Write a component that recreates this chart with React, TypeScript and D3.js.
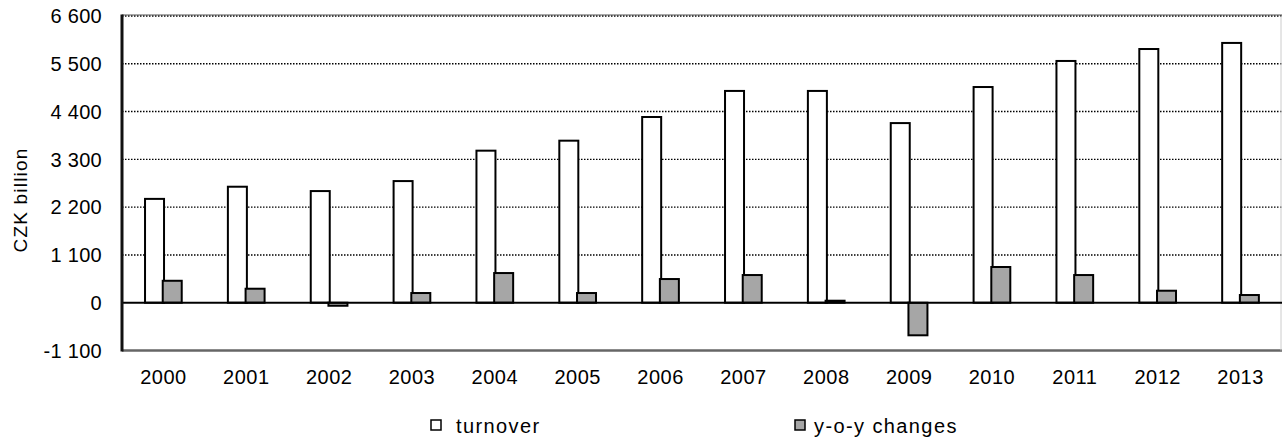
import React from "react";
import * as d3 from "d3";

// chart data
const years = ["2000", "2001", "2002", "2003", "2004", "2005", "2006", "2007", "2008", "2009", "2010", "2011", "2012", "2013"];
const turnover = [2390, 2670, 2570, 2800, 3500, 3730, 4275, 4875, 4875, 4135, 4965, 5565, 5840, 5980];
const yoyChanges = [505, 322, -70, 223, 683, 223, 545, 637, 46, -750, 822, 637, 276, 177];
const yTicks = [-1100, 0, 1100, 2200, 3300, 4400, 5500, 6600];
const seriesKeys = ["turnover", "yoy"];
const seriesLabels = ["turnover", "y-o-y changes"];

const W = 1282;
const H = 439;
const plot = { left: 122, right: 1282, top: 16, bottom: 350.5 };
const FONT = "'Liberation Sans', Arial, sans-serif";

const locale = d3.formatLocale({ decimal: ",", thousands: " ", grouping: [3], currency: ["", ""], minus: "-" });
const fmt = locale.format(",d");

export default function App() {
  const x0 = d3.scaleBand().domain(years).range([plot.left, plot.right]).padding(0);
  // two bars per year, slightly overlapping
  const x1 = d3.scaleBand().domain(seriesKeys).range([-18.4, 18.3]).paddingInner(-0.0734).paddingOuter(0);
  const y = d3.scaleLinear().domain([-1100, 6600]).range([plot.bottom, plot.top]);

  const colors = { turnover: "#ffffff", yoy: "#a6a6a6" };
  const rows = years.map((yr, i) => ({ yr, turnover: turnover[i], yoy: yoyChanges[i] }));

  return (
    <svg width={W} height={H} style={{ position: "absolute", left: 0, top: 0, background: "#fff" }}>
      {/* gridlines */}
      {yTicks.filter((t) => t > 0).map((t) => (
        <line key={t} x1={plot.left} x2={plot.right} y1={y(t)} y2={y(t)}
          stroke="#000" strokeWidth={1.4} strokeDasharray="1.5,1.5" />
      ))}
      {/* frame */}
      <line x1={plot.left} x2={plot.right} y1={plot.top - 1} y2={plot.top - 1} stroke="#555" strokeWidth={1.2} />
      <line x1={plot.left} x2={plot.right} y1={plot.bottom} y2={plot.bottom} stroke="#666" strokeWidth={2.5} />
      <line x1={plot.right - 1} x2={plot.right - 1} y1={plot.top} y2={plot.bottom} stroke="#ccc" strokeWidth={1} />

      {/* bars */}
      {rows.map((r) => (
        <g key={r.yr} transform={`translate(${x0(r.yr) + x0.bandwidth() / 2},0)`}>
          {seriesKeys.map((k) => {
            const v = r[k];
            const y0 = y(Math.max(0, v));
            const h = Math.abs(y(v) - y(0));
            return (
              <rect key={k} x={x1(k)} y={y0} width={x1.bandwidth()} height={Math.max(h, 1)}
                fill={colors[k]} stroke="#000" strokeWidth={2} />
            );
          })}
        </g>
      ))}

      {/* zero line */}
      <line x1={plot.left} x2={plot.right} y1={y(0)} y2={y(0)} stroke="#000" strokeWidth={2} />
      {/* left axis */}
      <line x1={plot.left} x2={plot.left} y1={plot.top - 1.5} y2={plot.bottom + 1} stroke="#111" strokeWidth={3} />

      {/* y tick labels */}
      {yTicks.map((t) => (
        <text key={t} x={102} y={y(t)} dy="0.36em" textAnchor="end" fontFamily={FONT} fontSize={20}
          letterSpacing={0.3} fill="#000">
          {fmt(t)}
        </text>
      ))}
      {/* x tick labels */}
      {years.map((yr) => (
        <text key={yr} x={x0(yr) + x0.bandwidth() / 2} y={384} textAnchor="middle" fontFamily={FONT} fontSize={20}
          letterSpacing={0.5} fill="#000">
          {yr}
        </text>
      ))}
      {/* y axis title */}
      <text transform="translate(27,200) rotate(-90)" textAnchor="middle" fontFamily={FONT} fontSize={19}
        letterSpacing={1.2} fill="#000">
        CZK billion
      </text>

      {/* legend */}
      {seriesKeys.map((k, i) => {
        const lx = i === 0 ? 431 : 795;
        return (
          <g key={k}>
            <rect x={lx} y={420} width={10} height={10} fill={colors[k]} stroke="#000" strokeWidth={1.5} />
            <text x={lx + (i === 0 ? 25 : 19)} y={433} fontFamily={FONT} fontSize={20} letterSpacing={1.4} fill="#000">
              {seriesLabels[i]}
            </text>
          </g>
        );
      })}
    </svg>
  );
}
